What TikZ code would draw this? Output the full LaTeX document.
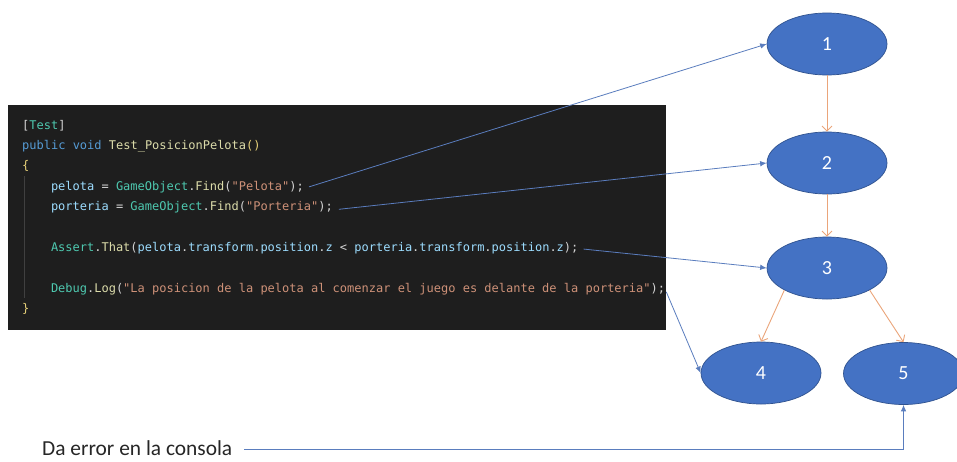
\documentclass[tikz,border=0pt]{standalone}
\usepackage{fontspec}
\setmainfont{Carlito}
\newfontfamily\codefont{DejaVu Sans Mono}
\usetikzlibrary{arrows.meta,shapes.geometric}

% editor colour scheme
\definecolor{panelbg}{HTML}{1E1E1E}
\definecolor{ckwc}{HTML}{569CD6}
\definecolor{ctyc}{HTML}{4EC9B0}
\definecolor{cfnc}{HTML}{DCDCAA}
\definecolor{cvarc}{HTML}{9CDCFE}
\definecolor{cstrc}{HTML}{CE9178}
\definecolor{cdefc}{HTML}{D4D4D4}
\definecolor{cbrc}{HTML}{E8D27A}
\definecolor{guidec}{HTML}{404040}
% diagram colours
\definecolor{nodefill}{HTML}{4472C4}
\definecolor{nodeline}{HTML}{2F528F}
\definecolor{linkblue}{HTML}{5A7DBE}
\definecolor{flowor}{HTML}{EBA57A}
\definecolor{labelc}{HTML}{262626}

\newcommand\ckw[1]{\textcolor{ckwc}{#1}}
\newcommand\cty[1]{\textcolor{ctyc}{#1}}
\newcommand\cfn[1]{\textcolor{cfnc}{#1}}
\newcommand\cvar[1]{\textcolor{cvarc}{#1}}
\newcommand\cstr[1]{\textcolor{cstrc}{#1}}
\newcommand\cbr[1]{\textcolor{cbrc}{#1}}

\tikzset{
  codeline/.style={anchor=base west, inner sep=2pt, text=cdefc,
    font=\codefont\fontsize{12}{14}\selectfont},
  state/.style={ellipse, fill=nodefill, draw=nodeline, line width=0.7pt,
    minimum width=120pt, minimum height=62pt, inner sep=0pt, text=white,
    font=\fontsize{20}{24}\selectfont},
  link/.style={draw=linkblue, line width=0.8pt,
    -{Latex[length=6.5pt,width=5.5pt]}},
  flow/.style={draw=flowor, line width=0.9pt,
    -{Straight Barb[length=5pt,width=10pt]}},
}

\begin{document}
\begin{tikzpicture}[x=1pt,y=-1pt]
\useasboundingbox (0,0) rectangle (957,461);
\fill[white] (0,0) rectangle (957,461);

% code panel
\node[fill=panelbg, inner sep=0pt, minimum width=658pt, minimum height=225pt,
      anchor=north west] (panel) at (8,105) {};
\draw[guidec, line width=0.8pt] (24,176) -- (24,298);

\node[codeline] (l1) at (20,129) {[\cty{Test}]};
\node[codeline] (l2) at (20,149.4) {\ckw{public} \ckw{void} \cfn{Test\_PosicionPelota}\cbr{()}};
\node[codeline] (l3) at (20,169.8) {\cbr{\{}};
\node[codeline] (l4) at (48.8,190.2) {\cvar{pelota} = \cty{GameObject}.\cfn{Find}(\cstr{"Pelota"});};
\node[codeline] (l5) at (48.8,210.6) {\cvar{porteria} = \cty{GameObject}.\cfn{Find}(\cstr{"Porteria"});};
\node[codeline] (l6) at (48.8,251.4) {\cty{Assert}.\cfn{That}(\cvar{pelota}.\cvar{transform}.\cvar{position}.\cvar{z} < \cvar{porteria}.\cvar{transform}.\cvar{position}.\cvar{z});};
\node[codeline] (l7) at (48.8,292.2) {\cty{Debug}.\cfn{Log}(\cstr{"La posicion de la pelota al comenzar el juego es delante de la porteria"});};
\node[codeline] (l8) at (20,312.6) {\cbr{\}}};

% control-flow nodes
\node[state] (n1) at (827,44) {1};
\node[state] (n2) at (827,163) {2};
\node[state] (n3) at (827,268) {3};
\node[state] (n4) at (761,373) {4};
\node[state] (n5) at (903.5,373.5) {5};

\draw[flow] (n1.south) -- (n2.north);
\draw[flow] (n2.south) -- (n3.north);
\draw[flow] (n3.south west) -- (n4.north);
\draw[flow] (n3.south east) -- (n5.north);

% statements mapped to nodes
\draw[link] ([xshift=3pt]l4.east) -- (n1.west);
\draw[link] ([xshift=4pt,yshift=-2pt]l5.east) -- (n2.west);
\draw[link] ([xshift=3pt,yshift=-1pt]l6.east) -- (n3.west);
\draw[link] ([xshift=-1pt,yshift=-3pt]l7.east) -- (n4.west);

\node[anchor=base west, inner sep=0pt, text depth=0pt, text=labelc,
      font=\fontsize{21.4}{24}\selectfont]
  (err) at (42,455.5) {Da error en la consola};
\draw[link] ([xshift=12pt,yshift=-1pt]err.east) -| (n5.south);
\end{tikzpicture}
\end{document}
